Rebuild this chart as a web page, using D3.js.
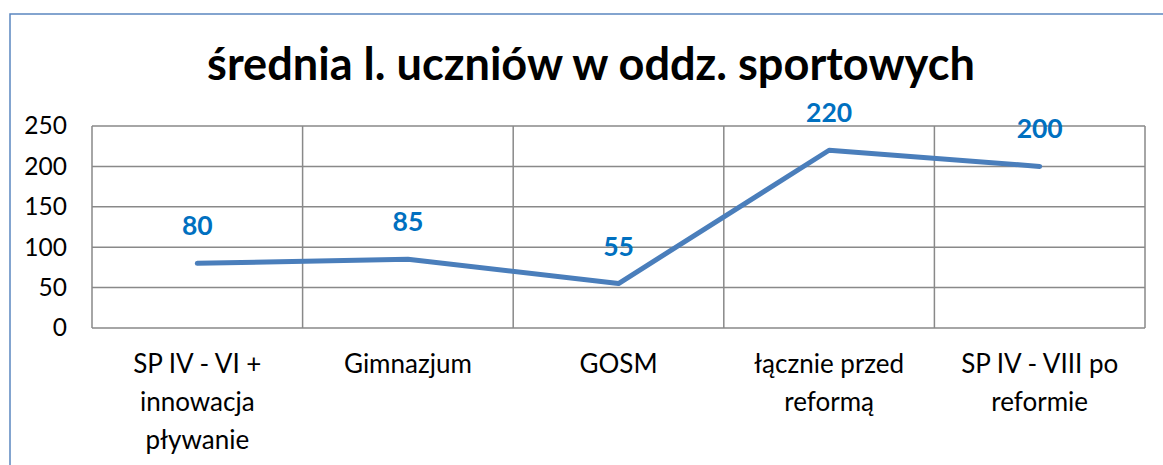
<!DOCTYPE html>
<html>
<head>
<meta charset="utf-8">
<script src="https://cdn.jsdelivr.net/npm/d3@7"></script>
<style>
  body { margin: 0; background: #fff; }
  svg { display: block; font-family: Lato, "Open Sans", sans-serif; }
  .grid-line { stroke: #898989; stroke-width: 1.5; }
</style>
</head>
<body>
<svg id="chart"></svg>
<script>
// dane wykresu
const categories = ["SP IV - VI + innowacja pływanie", "Gimnazjum", "GOSM", "łącznie przed reformą", "SP IV - VIII po reformie"];
const values = [80, 85, 55, 220, 200];
const yTicks = [0, 50, 100, 150, 200, 250];
const title = "średnia l. uczniów w oddz. sportowych";

const width = 1163;
const height = 465;
const plotLeft = 92, plotRight = 1145, plotTop = 126, plotBottom = 328;

const svg = d3.select("#chart").attr("width", width).attr("height", height);

// ramka wykresu
svg.append("path")
  .attr("d", `M10,${height} L10,14 L${width},14`)
  .attr("fill", "none")
  .attr("stroke", "#5b86c0")
  .attr("stroke-width", 1.5);

// tytuł
const t = svg.append("text")
  .attr("x", 591)
  .attr("y", 80)
  .attr("text-anchor", "middle")
  .style("font-weight", "bold")
  .style("font-size", "36px")
  .text(title);
// dopasowanie szerokości tytułu do oryginału
const tw = t.node().getComputedTextLength();
t.style("font-size", (36 * 768 / tw) + "px");

const scaleX = d3.scaleBand().domain(categories).range([plotLeft, plotRight]);
const scaleY = d3.scaleLinear().domain([0, 250]).range([plotBottom, plotTop]);

// linie siatki poziome
svg.append("g")
  .selectAll("line")
  .data(yTicks)
  .enter()
  .append("line")
  .classed("grid-line", true)
  .attr("x1", plotLeft).attr("x2", plotRight)
  .attr("y1", d => scaleY(d)).attr("y2", d => scaleY(d));

// linie siatki pionowe
const bounds = categories.map(c => scaleX(c)).concat([plotRight]);
svg.append("g")
  .selectAll("line")
  .data(bounds)
  .enter()
  .append("line")
  .classed("grid-line", true)
  .attr("x1", d => d).attr("x2", d => d)
  .attr("y1", plotTop).attr("y2", plotBottom);

// oś Y
const axisY = d3.axisLeft(scaleY).tickValues(yTicks).tickSize(0).tickPadding(0);
const gy = svg.append("g")
  .attr("transform", `translate(67, 0)`)
  .call(axisY);
gy.select(".domain").remove();
gy.selectAll("text")
  .style("font-size", "24.5px")
  .style("font-weight", "400")
  .style("font-family", "Lato, sans-serif")
  .attr("fill", "#000");

// oś X z zawijaniem
const axisX = d3.axisBottom(scaleX).tickSize(0).tickPadding(0);
const gx = svg.append("g")
  .attr("transform", `translate(0, 355)`)
  .call(axisX);
gx.select(".domain").remove();
gx.selectAll("text")
  .style("font-size", "26px")
  .style("font-weight", "400")
  .style("font-family", "Lato, sans-serif")
  .attr("fill", "#000")
  .each(function(d) {
    const el = d3.select(this);
    const words = d.split(" ");
    el.text(null);
    let lines = [];
    let line = [];
    const probe = el.append("tspan");
    for (let w of words) {
      line.push(w);
      probe.text(line.join(" "));
      if (probe.node().getComputedTextLength() > 180 && line.length > 1) {
        line.pop();
        lines.push(line.join(" "));
        line = [w];
      }
    }
    lines.push(line.join(" "));
    probe.remove();
    lines.forEach((l, i) => {
      el.append("tspan").attr("x", 0).attr("dy", i === 0 ? "0.71em" : "37.6px").text(l);
    });
  });

// linia danych
const line = d3.line()
  .x((d, i) => scaleX(categories[i]) + scaleX.bandwidth() / 2)
  .y(d => scaleY(d));

svg.append("path")
  .datum(values)
  .attr("d", line)
  .attr("fill", "none")
  .attr("stroke", "#4a7ebb")
  .attr("stroke-width", 5)
  .attr("stroke-linecap", "round")
  .attr("stroke-linejoin", "round");

// etykiety danych
svg.append("g")
  .selectAll("text")
  .data(values)
  .enter()
  .append("text")
  .attr("x", (d, i) => scaleX(categories[i]) + scaleX.bandwidth() / 2)
  .attr("y", d => scaleY(d) - 28)
  .attr("text-anchor", "middle")
  .style("font-size", "26.5px")
  .style("font-weight", "bold")
  .attr("fill", "#0070c0")
  .text(d => d);
</script>
</body>
</html>
